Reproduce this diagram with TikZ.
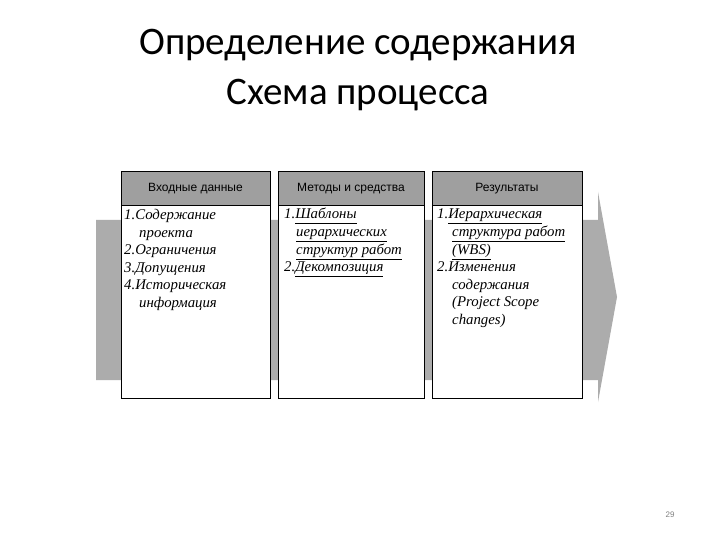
\documentclass[tikz,border=0pt]{standalone}
\usepackage{fontspec}
\setmainfont{Liberation Serif}
\newfontfamily\titlefont{Carlito}
\newfontfamily\headfont{Liberation Sans}
\newcommand{\ul}[1]{\underline{\smash{#1}\vphantom{y}}}
\begin{document}
\begin{tikzpicture}[x=1pt,y=-1pt,
  col/.style={draw=black,line width=0.8pt,fill=white},
  hdr/.style={draw=black,line width=0.8pt,fill=gray!75},
  htext/.style={font=\headfont\fontsize{12}{13}\selectfont},
  body/.style={anchor=north west,align=left,inner sep=0pt,font=\itshape\fontsize{14.8}{17.6}\selectfont}]
\useasboundingbox (0,0) rectangle (720,540);
\fill[white] (0,0) rectangle (720,540);
\node[font=\titlefont\fontsize{39}{50}\selectfont,align=center] (title) at (358,70) {Определение содержания\\Схема процесса};
\fill[gray!65] (96,220) -- (598,220) -- (598,192) -- (617,297) -- (598,402) -- (598,380) -- (96,380) -- cycle;
\draw[col] (121,171) rectangle (270,398);
\draw[hdr] (121,171) rectangle (270,205);
\draw[col] (278,171) rectangle (424,398);
\draw[hdr] (278,171) rectangle (424,205);
\draw[col] (432,171) rectangle (582,398);
\draw[hdr] (432,171) rectangle (582,205);
\node[htext] (h1) at (195.5,189) {Входные данные};
\node[htext] (h2) at (351,189) {Методы и средства};
\node[htext] (h3) at (507,189) {Результаты};
\node[body] (b1) at (124,209) {1.Содержание\\\hspace*{15pt}проекта\\2.Ограничения\\3.Допущения\\4.Историческая\\\hspace*{15pt}информация};
\node[body] (b2) at (284,209) {1.\ul{Шаблоны}\\\hspace*{12pt}\ul{иерархических}\\\hspace*{12pt}\ul{структур работ}\\2.\ul{Декомпозиция}};
\node[body] (b3) at (437,209) {1.\ul{Иерархическая}\\\hspace*{15pt}\ul{структура работ}\\\hspace*{15pt}\ul{(WBS)}\\2.Изменения\\\hspace*{15pt}содержания\\\hspace*{15pt}(Project Scope\\\hspace*{15pt}changes)};
\node[font=\headfont\fontsize{8}{10}\selectfont,text=gray] (pg) at (670,515) {29};
\end{tikzpicture}
\end{document}
